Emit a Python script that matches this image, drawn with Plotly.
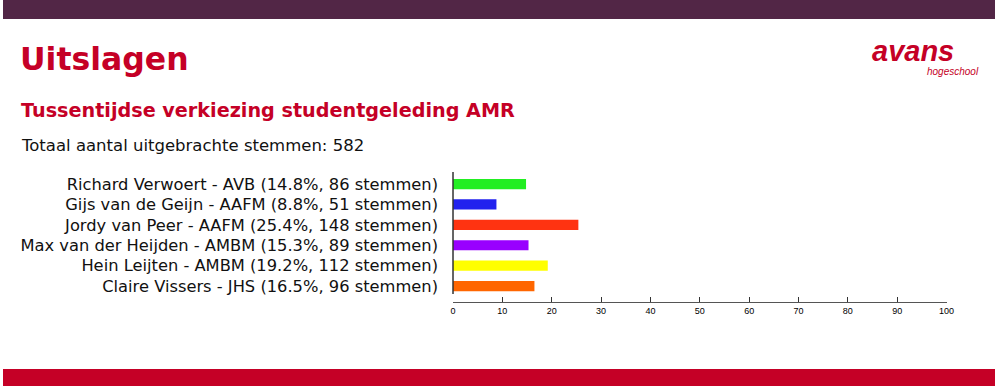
import plotly.graph_objects as go

candidates = ["Richard Verwoert", "Gijs van de Geijn", "Jordy van Peer",
              "Max van der Heijden", "Hein Leijten", "Claire Vissers"]
parties = ["AVB", "AAFM", "AAFM", "AMBM", "AMBM", "JHS"]
percentages = [14.8, 8.8, 25.4, 15.3, 19.2, 16.5]
votes = [86, 51, 148, 89, 112, 96]
bar_colors = ["#22ee22", "#2222ee", "#ff3311", "#9900ff", "#ffff00", "#ff6600"]
total_votes = 582
x_ticks = [0, 10, 20, 30, 40, 50, 60, 70, 80, 90, 100]

labels = [f"{c} - {p} ({pc}%, {v} stemmen)" for c, p, pc, v in zip(candidates, parties, percentages, votes)]

W, H = 1003, 386
FONT = "DejaVu Sans"
CRIMSON = "#c50026"
top, bottom = 172, 302


def px(x):
    return x / W


def py(y):
    return (bottom - y) / (bottom - top)


fig = go.Figure()
fig.add_trace(go.Bar(
    x=percentages, y=labels, orientation="h",
    marker=dict(color=bar_colors, line=dict(width=0)),
    width=0.5, hoverinfo="skip",
))

x0, x1 = 455 / W, 954 / W
shapes = [
    dict(type="rect", xref="paper", yref="paper", x0=0, x1=1,
         y0=py(0), y1=py(19), fillcolor="#522646", line=dict(width=0), layer="below"),
    dict(type="rect", xref="paper", yref="paper", x0=0, x1=1,
         y0=py(H), y1=py(369), fillcolor=CRIMSON, line=dict(width=0), layer="below"),
    dict(type="line", xref="paper", yref="paper", x0=x0, x1=x0,
         y0=py(294), y1=py(172), line=dict(color="#333", width=1.5)),
]
fig.update_layout(
    width=W, height=H,
    margin=dict(l=0, r=0, t=top, b=H - bottom, pad=0),
    paper_bgcolor="white", plot_bgcolor="white",
    showlegend=False,
    xaxis=dict(domain=[x0, x1], range=[0, 100], tickvals=x_ticks,
               ticks="inside", ticklen=5, tickcolor="#333", tickwidth=1,
               showline=True, linecolor="#555", linewidth=1,
               showgrid=False, zeroline=False,
               tickfont=dict(family="Liberation Sans", size=9, color="black")),
    yaxis=dict(categoryorder="array", categoryarray=labels,
               range=[5.78, -0.59], showgrid=False, zeroline=False,
               showline=False, ticks="", ticklabelstandoff=14,
               tickfont=dict(family=FONT, size=16.3, color="#111")),
    shapes=shapes,
)


def ann(text, x, y, size, color, bold=False, italic=False, anchor="left", family=FONT):
    t = text
    if bold:
        t = f"<b>{t}</b>"
    if italic:
        t = f"<i>{t}</i>"
    fig.add_annotation(text=t, xref="paper", yref="paper", x=px(x), y=py(y),
                       xanchor=anchor, yanchor="bottom", showarrow=False,
                       font=dict(family=family, size=size, color=color))


ann("Uitslagen", 15, 79, 31.5, CRIMSON, bold=True)
ann("Tussentijdse verkiezing studentgeleding AMR", 16, 124, 19.2, CRIMSON, bold=True)
ann(f"Totaal aantal uitgebrachte stemmen: {total_votes}", 16, 157, 16.5, "#111")
ann("avans", 877, 69, 29, CRIMSON, bold=True, italic=True, family="Liberation Sans")
ann("hogeschool", 932, 79, 10, CRIMSON, italic=True, family="Liberation Sans")

fig.write_html("out.html", config={"displayModeBar": False},
               post_script="document.body.style.margin='0px';document.body.style.overflow='hidden';")
